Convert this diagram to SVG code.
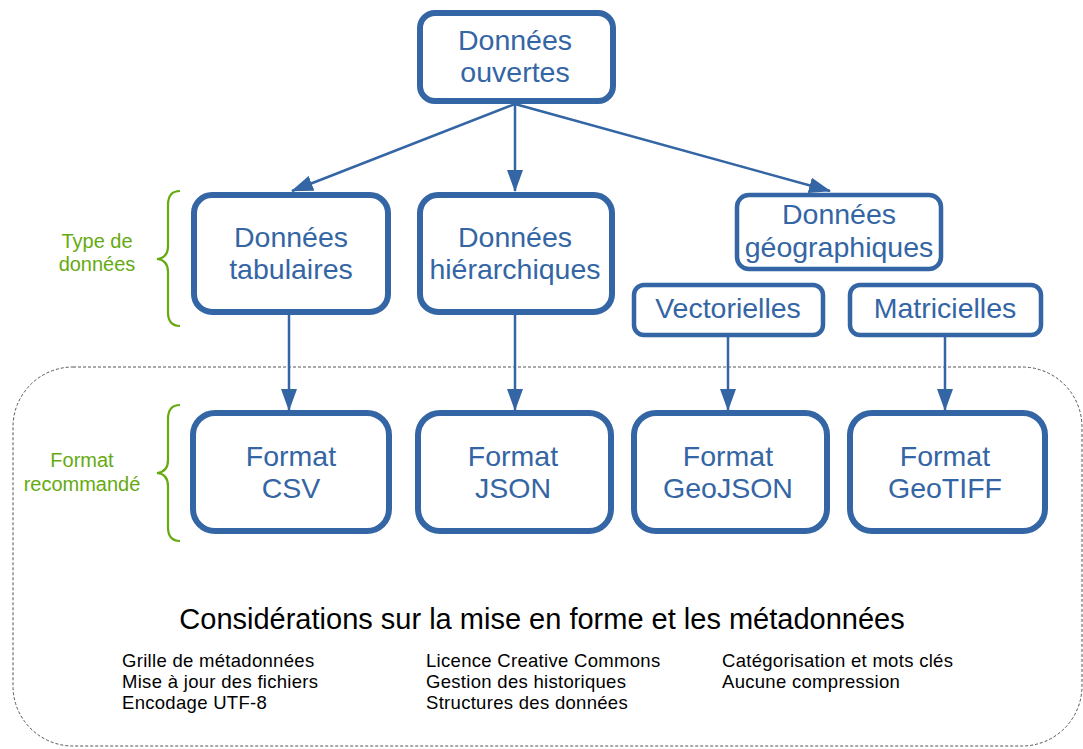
<svg xmlns="http://www.w3.org/2000/svg" width="1083" height="749" viewBox="0 0 1083 749">
<style>
.box{fill:#fff;stroke:#3465a4;stroke-width:6}
.box2{fill:#fff;stroke:#3465a4;stroke-width:4.5}
.nt{font-family:"Liberation Sans",Arial,sans-serif;font-size:28.5px;fill:#3465a4;text-anchor:middle}
.lbl{font-family:"Liberation Sans",Arial,sans-serif;font-size:20px;fill:#66aa11;text-anchor:middle}
.brace{fill:none;stroke:#66aa11;stroke-width:2.2}
.edge{stroke:#3465a4;stroke-width:2.5;fill:none}
.blk{font-family:"Liberation Sans",Arial,sans-serif;fill:#000}
</style>
<defs>
<marker id="ah" markerWidth="22" markerHeight="16" refX="21" refY="8" orient="auto" markerUnits="userSpaceOnUse">
<path d="M0,0 L22,8 L0,16 Z" fill="#3465a4"/>
</marker>
</defs>
<rect x="13" y="367" width="1069" height="379" rx="60" ry="60" fill="none" stroke="#555" stroke-width="1" stroke-dasharray="3,2"/>
<g id="connectors">
<line class="edge" x1="515" y1="104" x2="292" y2="191" marker-end="url(#ah)"/>
<line class="edge" x1="515" y1="104" x2="515" y2="191" marker-end="url(#ah)"/>
<line class="edge" x1="515" y1="104" x2="830" y2="191" marker-end="url(#ah)"/>
<line class="edge" x1="289" y1="314" x2="289" y2="410" marker-end="url(#ah)"/>
<line class="edge" x1="515" y1="314" x2="515" y2="410" marker-end="url(#ah)"/>
<line class="edge" x1="728" y1="337" x2="728" y2="410" marker-end="url(#ah)"/>
<line class="edge" x1="945" y1="337" x2="945" y2="410" marker-end="url(#ah)"/>
</g>
<g id="n-ouvertes"><rect class="box" x="420" y="13" width="193" height="88" rx="15"/><text class="nt" x="515" y="50">Données</text><text class="nt" x="515" y="82">ouvertes</text></g>
<g id="n-tabulaires"><rect class="box" x="194" y="195" width="194" height="117" rx="18"/><text class="nt" x="291" y="247">Données</text><text class="nt" x="291" y="279">tabulaires</text></g>
<g id="n-hierarchiques"><rect class="box" x="420" y="195" width="192" height="117" rx="18"/><text class="nt" x="515" y="247">Données</text><text class="nt" x="515" y="279">hiérarchiques</text></g>
<g id="n-geo"><rect class="box2" x="737" y="195" width="204" height="74" rx="12"/><text class="nt" x="839" y="224">Données</text><text class="nt" x="839" y="257">géographiques</text></g>
<g id="n-vect"><rect class="box2" x="634" y="285" width="189" height="50" rx="10"/><text class="nt" x="728" y="318">Vectorielles</text></g>
<g id="n-matr"><rect class="box2" x="850" y="285" width="191" height="50" rx="10"/><text class="nt" x="945" y="318">Matricielles</text></g>
<g id="n-csv"><rect class="box" x="193" y="413" width="196" height="118" rx="22"/><text class="nt" x="291" y="466">Format</text><text class="nt" x="291" y="498">CSV</text></g>
<g id="n-json"><rect class="box" x="418" y="413" width="193" height="118" rx="22"/><text class="nt" x="513" y="466">Format</text><text class="nt" x="513" y="498">JSON</text></g>
<g id="n-geojson"><rect class="box" x="634" y="413" width="193" height="118" rx="22"/><text class="nt" x="728" y="466">Format</text><text class="nt" x="728" y="498">GeoJSON</text></g>
<g id="n-geotiff"><rect class="box" x="850" y="413" width="195" height="118" rx="22"/><text class="nt" x="945" y="466">Format</text><text class="nt" x="945" y="498">GeoTIFF</text></g>
<g id="lbl-type">
<path class="brace" d="M180,191 Q168,191 168,205 L168,246 Q168,258 157,259 Q168,260 168,272 L168,312 Q168,326 180,326"/>
<text class="lbl" x="97" y="248">Type de</text><text class="lbl" x="97" y="271">données</text>
</g>
<g id="lbl-format">
<path class="brace" d="M180,405 Q168,405 168,419 L168,460 Q168,472 157,473 Q168,474 168,486 L168,527 Q168,541 180,541"/>
<text class="lbl" x="82" y="467">Format</text><text class="lbl" x="82" y="491">recommandé</text>
</g>
<g id="considerations">
<text class="blk" x="542" y="629" font-size="29" text-anchor="middle">Considérations sur la mise en forme et les métadonnées</text>
<g font-size="18.5" letter-spacing="0.3">
<text class="blk" x="122" y="667">Grille de métadonnées</text>
<text class="blk" x="122" y="688">Mise à jour des fichiers</text>
<text class="blk" x="122" y="709">Encodage UTF-8</text>
<text class="blk" x="426" y="667">Licence Creative Commons</text>
<text class="blk" x="426" y="688">Gestion des historiques</text>
<text class="blk" x="426" y="709">Structures des données</text>
<text class="blk" x="722" y="667">Catégorisation et mots clés</text>
<text class="blk" x="722" y="688">Aucune compression</text>
</g>
</g>
</svg>
